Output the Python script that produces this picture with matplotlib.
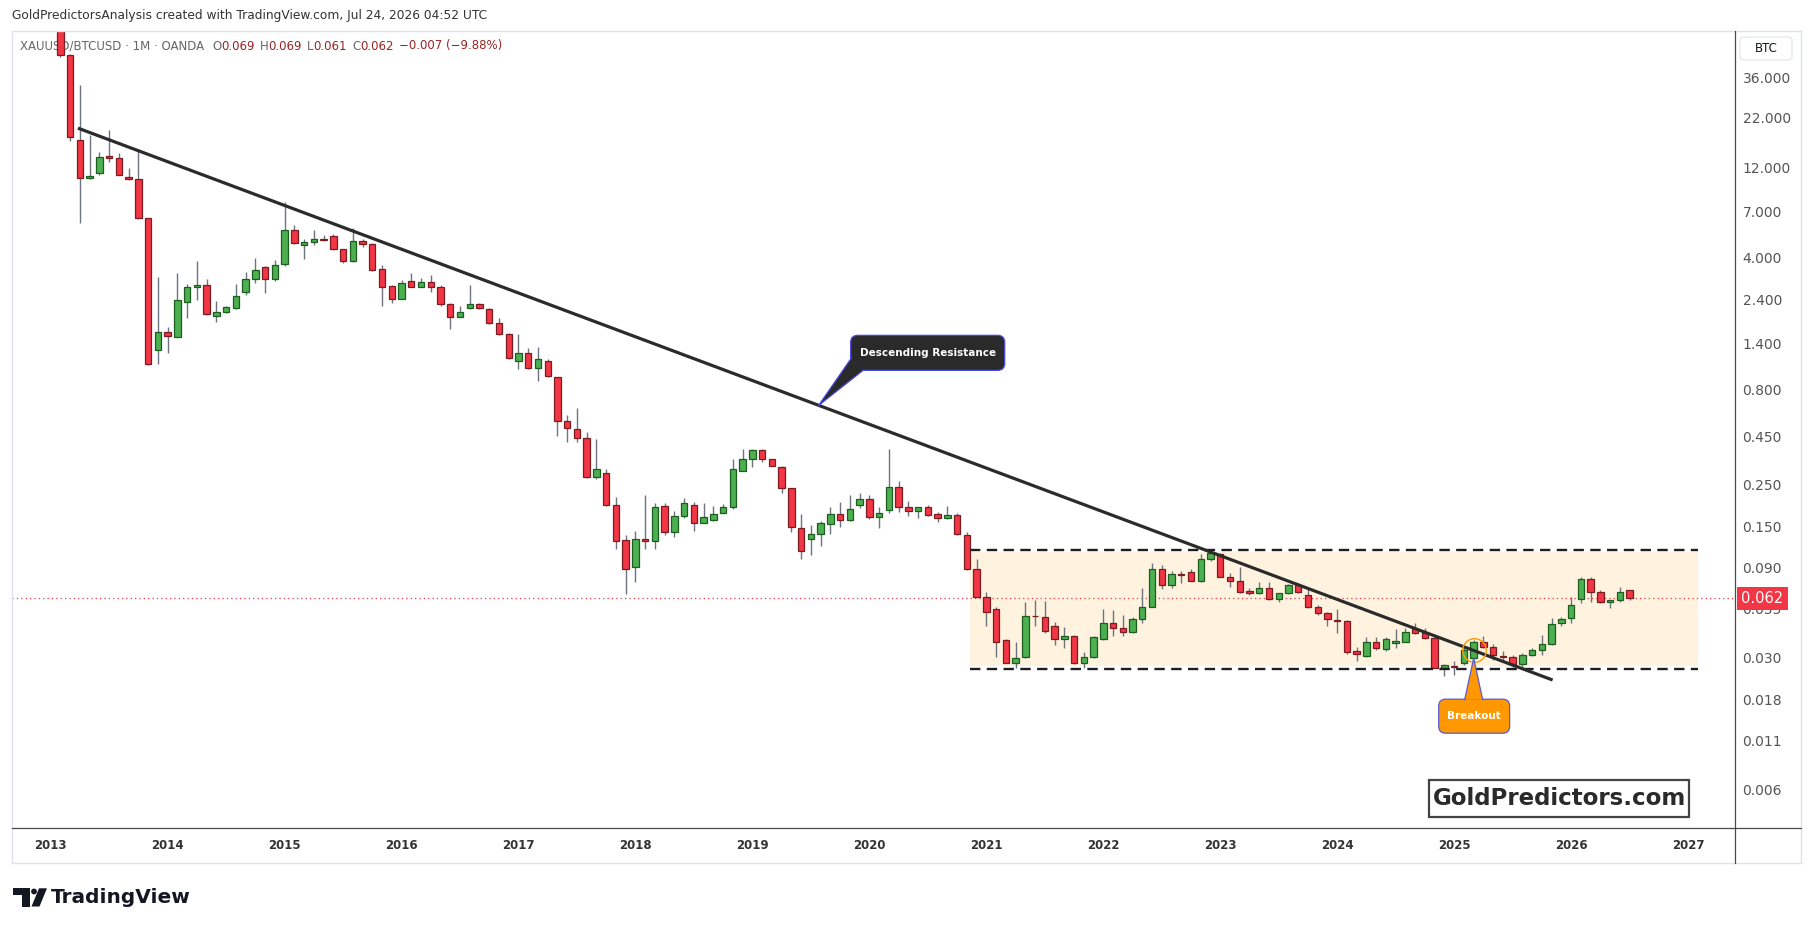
import matplotlib
matplotlib.use("Agg")
import matplotlib.pyplot as plt
import numpy as np
import pandas as pd
from matplotlib.patches import FancyBboxPatch, Polygon, Rectangle, Circle
from matplotlib.lines import Line2D
from matplotlib.transforms import IdentityTransform
from matplotlib.ticker import NullLocator

W, H = 1813, 932

# monthly XAUUSD/BTCUSD candles, Feb 2013 .. Jul 2026
dates = pd.date_range("2013-02-01", periods=162, freq="MS")
opens = [80, 47.4, 16.8, 10.5, 11.2, 13.8, 13.4, 10.7, 10.4, 6.44,
         1.29, 1.61, 1.51, 2.31, 2.77, 2.84, 1.95, 2.04, 2.16, 2.63,
         3.06, 3.57, 3.06, 3.67, 5.59, 4.63, 4.83, 4.99, 5.19, 4.41,
         3.83, 4.89, 4.71, 3.46, 2.81, 2.42, 2.99, 2.80, 2.95, 2.80,
         2.26, 1.94, 2.15, 2.26, 2.13, 1.80, 1.56, 1.13, 1.24, 1.03,
         1.13, 0.924, 0.542, 0.490, 0.438, 0.272, 0.286, 0.194, 0.126, 0.0907,
         0.129, 0.125, 0.192, 0.139, 0.169, 0.194, 0.155, 0.162, 0.177, 0.189,
         0.293, 0.340, 0.380, 0.340, 0.308, 0.238, 0.146, 0.128, 0.137, 0.154,
         0.173, 0.162, 0.194, 0.208, 0.167, 0.183, 0.241, 0.190, 0.181, 0.190,
         0.175, 0.165, 0.171, 0.134, 0.0885, 0.0635, 0.0543, 0.0373, 0.0283, 0.0305,
         0.0501, 0.0492, 0.0443, 0.0376, 0.0392, 0.0283, 0.0302, 0.0376, 0.0458, 0.0431,
         0.0413, 0.0480, 0.0561, 0.0885, 0.0731, 0.0833, 0.0855, 0.0770, 0.100, 0.1064,
         0.0809, 0.0770, 0.0682, 0.0660, 0.0702, 0.0613, 0.0660, 0.0731, 0.0647, 0.0556,
         0.0522, 0.0477, 0.0471, 0.0328, 0.0307, 0.0366, 0.0333, 0.0362, 0.0366, 0.0425,
         0.0405, 0.0381, 0.0264, 0.0272, 0.0281, 0.0299, 0.0366, 0.0344, 0.0307, 0.0302,
         0.0279, 0.0311, 0.0330, 0.0356, 0.0458, 0.0486, 0.0613, 0.0790, 0.0670, 0.0597,
         0.0605, 0.069]
highs = [85, 48, 32.8, 17.8, 14.5, 19.0, 14.4, 11.9, 15.0, 6.5,
         3.16, 1.71, 3.29, 2.89, 3.83, 3.07, 2.35, 2.20, 2.89, 3.33,
         3.95, 3.60, 3.88, 7.90, 5.94, 4.99, 5.59, 5.26, 5.32, 4.45,
         5.70, 5.02, 4.75, 3.63, 2.85, 3.03, 3.29, 3.12, 3.23, 2.85,
         2.28, 2.21, 2.85, 2.28, 2.15, 1.90, 1.58, 1.56, 1.32, 1.34,
         1.15, 0.93, 0.584, 0.633, 0.476, 0.435, 0.300, 0.213, 0.134, 0.142,
         0.219, 0.198, 0.198, 0.181, 0.211, 0.201, 0.198, 0.192, 0.196, 0.340,
         0.385, 0.385, 0.385, 0.342, 0.313, 0.240, 0.173, 0.152, 0.160, 0.189,
         0.201, 0.219, 0.224, 0.219, 0.190, 0.385, 0.261, 0.204, 0.190, 0.194,
         0.179, 0.192, 0.177, 0.140, 0.101, 0.0674, 0.0556, 0.0376, 0.0366, 0.0597,
         0.0609, 0.0603, 0.0467, 0.0436, 0.0397, 0.0324, 0.039, 0.0543, 0.0539, 0.0507,
         0.0497, 0.0702, 0.0960, 0.0933, 0.0868, 0.0868, 0.0885, 0.1064, 0.110, 0.1077,
         0.0843, 0.0914, 0.0702, 0.0761, 0.0761, 0.0666, 0.0740, 0.0752, 0.0702, 0.0573,
         0.0528, 0.0543, 0.0477, 0.0344, 0.0386, 0.0386, 0.0386, 0.0425, 0.0431, 0.0461,
         0.0431, 0.0397, 0.0279, 0.0290, 0.0344, 0.0373, 0.0392, 0.0356, 0.0328, 0.0311,
         0.0317, 0.0337, 0.0397, 0.0486, 0.0492, 0.0629, 0.0803, 0.0803, 0.0690, 0.0609,
         0.0716, 0.069]
lows = [46, 16.6, 6.11, 10.4, 10.9, 12.9, 10.9, 10.3, 6.4, 1.08,
        1.09, 1.25, 1.51, 1.90, 2.38, 1.98, 1.82, 2.02, 2.14, 2.53,
        2.94, 2.58, 3.0, 3.6, 4.7, 3.91, 4.63, 4.89, 4.4, 3.72,
        3.8, 4.56, 3.4, 2.22, 2.28, 2.40, 2.78, 2.78, 2.63, 2.22,
        1.66, 1.92, 2.13, 2.12, 1.78, 1.55, 1.16, 1.02, 1.02, 0.887,
        0.93, 0.453, 0.421, 0.421, 0.27, 0.266, 0.193, 0.113, 0.0652, 0.0762,
        0.113, 0.113, 0.135, 0.132, 0.165, 0.142, 0.155, 0.160, 0.177, 0.184,
        0.293, 0.310, 0.330, 0.312, 0.224, 0.140, 0.101, 0.105, 0.118, 0.136,
        0.149, 0.160, 0.187, 0.163, 0.147, 0.177, 0.179, 0.169, 0.165, 0.169,
        0.157, 0.163, 0.135, 0.088, 0.063, 0.0443, 0.0305, 0.0283, 0.0264, 0.0299,
        0.0443, 0.0405, 0.0351, 0.0337, 0.0279, 0.0264, 0.0300, 0.0374, 0.0392, 0.0392,
        0.0405, 0.0461, 0.0561, 0.0693, 0.0707, 0.0746, 0.0765, 0.0761, 0.0984, 0.0803,
        0.0716, 0.0666, 0.0647, 0.0655, 0.0605, 0.0597, 0.0655, 0.0660, 0.0550, 0.0507,
        0.0443, 0.0408, 0.0313, 0.0290, 0.0305, 0.0330, 0.0328, 0.0337, 0.0366, 0.0402,
        0.0376, 0.0264, 0.0242, 0.0243, 0.0275, 0.0295, 0.0337, 0.0292, 0.0292, 0.0270,
        0.0270, 0.0307, 0.0311, 0.0351, 0.0443, 0.0461, 0.0585, 0.0597, 0.0585, 0.0554,
        0.0597, 0.061]
closes = [47.4, 17.5, 10.5, 10.8, 13.6, 13.4, 11.0, 10.4, 6.44, 1.09,
          1.61, 1.53, 2.38, 2.77, 2.84, 2.00, 2.04, 2.18, 2.49, 3.07,
          3.43, 3.06, 3.63, 5.59, 4.75, 4.83, 4.99, 4.95, 4.41, 3.83,
          4.89, 4.71, 3.43, 2.80, 2.42, 2.91, 2.80, 2.95, 2.80, 2.26,
          1.94, 2.04, 2.26, 2.15, 1.80, 1.56, 1.17, 1.24, 1.03, 1.15,
          0.94, 0.542, 0.495, 0.438, 0.272, 0.300, 0.194, 0.125, 0.0885, 0.129,
          0.125, 0.189, 0.139, 0.169, 0.198, 0.155, 0.167, 0.175, 0.189, 0.300,
          0.340, 0.380, 0.340, 0.313, 0.238, 0.149, 0.111, 0.137, 0.155, 0.173,
          0.162, 0.184, 0.208, 0.167, 0.177, 0.241, 0.190, 0.181, 0.190, 0.171,
          0.165, 0.171, 0.136, 0.0885, 0.0635, 0.0524, 0.0366, 0.0283, 0.0299, 0.0501,
          0.0500, 0.0418, 0.0376, 0.0392, 0.0281, 0.0302, 0.0386, 0.0458, 0.0431, 0.0413,
          0.0480, 0.0561, 0.0885, 0.0731, 0.0833, 0.0830, 0.0770, 0.100, 0.1077, 0.0809,
          0.0770, 0.0674, 0.0660, 0.0702, 0.0613, 0.0660, 0.0731, 0.0674, 0.0556, 0.0522,
          0.0480, 0.0471, 0.0324, 0.0313, 0.0366, 0.0337, 0.0376, 0.0369, 0.0413, 0.0405,
          0.0381, 0.0264, 0.0275, 0.0267, 0.0330, 0.0366, 0.0344, 0.0311, 0.0302, 0.0279,
          0.0311, 0.0330, 0.0356, 0.0455, 0.0480, 0.0573, 0.0783, 0.0670, 0.0593, 0.0605,
          0.0670, 0.062]

years = list(range(2013, 2028))
price_ticks = [36, 22, 12, 7, 4, 2.4, 1.4, 0.8, 0.45, 0.25, 0.15, 0.09,
               0.055, 0.03, 0.018, 0.011, 0.006]
last_price = 0.062

# drawings: (months since Jan 2013, price)
trend_start = (2.8, 19.4)
trend_end = (154.1, 0.0229)
range_low, range_high = 0.0263, 0.112
fill_low, fill_high = 0.0272, 0.1095
range_start, range_end = 94.3, 169.0
breakout = pd.Timestamp("2025-03-01")
resist_tip_month = 78.8

UP, UP_EDGE = "#4caf50", "#1b5e20"
DN, DN_EDGE = "#f23645", "#7a1c22"


def fpx(x, y):
    # figure pixel (top-left origin) -> figure fraction
    return x / W, 1 - y / H


months = (dates.year - 2013) * 12 + dates.month - 1
o = np.array(opens)
c = np.array(closes)
up = c >= o
lo = np.minimum(o, c)
hi = np.maximum(o, c)

fig = plt.figure(figsize=(W / 100, H / 100), dpi=100)
fig.patch.set_facecolor("white")
ax = fig.add_axes([11.5 / W, 1 - 828 / H, (1734.5 - 11.5) / W, (828 - 31) / H])
ax.patch.set_visible(False)

ax.vlines(months, lows, highs, color="#6f7280", lw=1.0, zorder=2)
ax.bar(months, hi - lo, bottom=lo, width=0.66,
       color=[UP if u else DN for u in up],
       edgecolor=[UP_EDGE if u else DN_EDGE for u in up],
       linewidth=0.9, zorder=3)

# range box
ax.add_patch(Rectangle((range_start, fill_low), range_end - range_start,
                       fill_high - fill_low, fc="#fff3e0", ec="none", zorder=0.5))
ax.hlines([range_low, range_high], range_start, range_end, colors="#1e1e1e",
          lw=1.7, linestyles=[(0, (4.4, 2.7))], zorder=4)

# descending resistance
ax.plot([trend_start[0], trend_end[0]], [trend_start[1], trend_end[1]],
        color="#2b2b2b", lw=2.3, solid_capstyle="butt", zorder=5)

ax.axhline(last_price, color=DN, lw=0.9, ls=(0, (1, 2.5)), zorder=1)

bi = list(dates).index(breakout)
bx = months[bi]
ax.plot(bx, np.sqrt(o[bi] * c[bi]), "o", ms=17, mfc="none", mec="#ff9800",
        mew=1.0, zorder=6)

ax.set_yscale("log")
ax.set_xlim(-4.015, 172.76)
ax.set_ylim(10 ** -2.4252, 10 ** 1.803)
ax.yaxis.tick_right()
ax.set_yticks(price_ticks)
ax.set_yticklabels([f"{t:.3f}" for t in price_ticks])
ax.yaxis.set_minor_locator(NullLocator())
ax.tick_params(axis="y", length=0, pad=5.8, labelsize=10, labelcolor="#555555")
ax.set_xticks([(y - 2013) * 12 for y in years])
ax.set_xticklabels([str(y) for y in years])
ax.tick_params(axis="x", length=0, pad=8, labelsize=8.5, labelcolor="#333333")
for lbl in ax.get_xticklabels():
    lbl.set_fontweight("bold")
for s in ax.spines.values():
    s.set_visible(False)

ax.text(1.0038, last_price, f"{last_price:.3f}", transform=ax.get_yaxis_transform(),
        ha="left", va="center", color="white", fontsize=10.5, zorder=10, clip_on=False,
        bbox=dict(boxstyle="square,pad=0.3", fc=DN, ec="none"))

# pane frame
def fline(x0, y0, x1, y1, color, lw):
    p0 = fpx(x0, y0)
    p1 = fpx(x1, y1)
    fig.add_artist(Line2D([p0[0], p1[0]], [p0[1], p1[1]], transform=fig.transFigure,
                          color=color, lw=lw))

fline(11.5, 31, 1801, 31, "#e0e3eb", 1)
fline(11.5, 863, 1801, 863, "#e0e3eb", 1)
fline(11.5, 31, 11.5, 863, "#e0e3eb", 1)
fline(1801, 31, 1801, 863, "#e0e3eb", 1)
fline(11.5, 828, 1801, 828, "#4a4a4a", 0.9)
fline(1734.5, 31, 1734.5, 863, "#4a4a4a", 0.9)

# BTC currency box
bx0, by0 = fpx(1740, 60)
fig.add_artist(FancyBboxPatch((bx0, by0), 52 / W, 23 / H, transform=fig.transFigure,
                              boxstyle="round,pad=0,rounding_size=0.003",
                              fc="white", ec="#e0e3eb", lw=0.8))
fig.text(*fpx(1766, 48.5), "BTC", ha="center", va="center", fontsize=8.5, color="#131722")

# header texts
fig.text(*fpx(12, 16), "GoldPredictorsAnalysis created with TradingView.com, Jul 24, 2026 04:52 UTC",
         ha="left", va="center", fontsize=8.8, color="#333333")
renderer = fig.canvas.get_renderer()
pieces = [("XAUUSD/BTCUSD · 1M · OANDA", "#666666", 8), ("O", "#666666", 0), ("0.069", "#9a2424", 5),
          ("H", "#666666", 0), ("0.069", "#9a2424", 5), ("L", "#666666", 0), ("0.061", "#9a2424", 5),
          ("C", "#666666", 0), ("0.062", "#9a2424", 5), ("−0.007 (−9.88%)", "#9a2424", 0)]
xcur = 20
for txt, col, gap in pieces:
    t = fig.text(*fpx(xcur, 46), txt, ha="left", va="center", fontsize=8.5, color=col, zorder=-1)
    xcur += t.get_window_extent(renderer).width + gap

# callouts in pixel space, anchored to data points
def callout(tip, box, base, fc, ec, text, fsize):
    tx, ty = ax.transData.transform(tip)
    (x0, x1, y0, y1) = box
    fig.add_artist(FancyBboxPatch((tx + x0, ty + y0), x1 - x0, y1 - y0,
                                  boxstyle="round,pad=0,rounding_size=7",
                                  transform=IdentityTransform(), fc=fc, ec=ec, lw=0.9, zorder=7))
    pts = [(tx, ty)] + [(tx + bxx, ty + byy) for bxx, byy in base]
    fig.add_artist(Polygon(pts, closed=True, transform=IdentityTransform(),
                           fc=fc, ec="none", zorder=8))
    for bxx, byy in base:
        fig.add_artist(Line2D([tx, tx + bxx], [ty, ty + byy], transform=IdentityTransform(),
                              color=ec, lw=0.9, zorder=8))
    fig.text((tx + (x0 + x1) / 2) / W, (ty + (y0 + y1) / 2) / H, text, ha="center",
             va="center", color="white", fontsize=fsize, fontweight="bold", zorder=9)

lt0, lt1 = np.log10(trend_start[1]), np.log10(trend_end[1])
tip_price = 10 ** (lt0 + (lt1 - lt0) * (resist_tip_month - trend_start[0]) / (trend_end[0] - trend_start[0]))
callout((resist_tip_month, tip_price), (32, 186, 35, 70), [(32.5, 47), (45, 35.5)],
        "#2a2a2a", "#4646e6", "Descending Resistance", 7.5)
callout((bx, min(o[bi], c[bi])), (-35, 36, -75, -41), [(-9, -41.5), (9, -41.5)],
        "#ff9800", "#5a5ad8", "Breakout", 7.5)

# watermark box
gx, gy = fpx(1429.3, 816.7)
fig.add_artist(Rectangle((gx, gy), 260 / W, 36.7 / H, transform=fig.transFigure,
                         fc="white", ec="#444444", lw=1.6, zorder=7))
fig.text(*fpx(1559.3, 798.5), "GoldPredictors.com", ha="center", va="center",
         fontsize=16.5, fontweight="bold", color="#2a2a2a", zorder=8)

# TradingView logo
def dpx(x, y):
    return (x, H - y)

fig.add_artist(Polygon([dpx(13.3, 888.3), dpx(30, 888.3), dpx(30, 906.5), dpx(21.7, 906.5),
                        dpx(21.7, 895), dpx(13.3, 895)], closed=True,
                       transform=IdentityTransform(), fc="#131722", ec="none"))
fig.add_artist(Circle(dpx(34, 891.5), 2.9, transform=IdentityTransform(), fc="#131722", ec="none"))
fig.add_artist(Polygon([dpx(31.5, 906.5), dpx(39.5, 906.5), dpx(47, 888.3), dpx(39, 888.3)],
                       closed=True, transform=IdentityTransform(), fc="#131722", ec="none"))
fig.text(*fpx(51, 897.5), "TradingView", ha="left", va="center", fontsize=14.5,
         fontweight="bold", color="#131722")

fig.savefig("out.png", dpi=100)
